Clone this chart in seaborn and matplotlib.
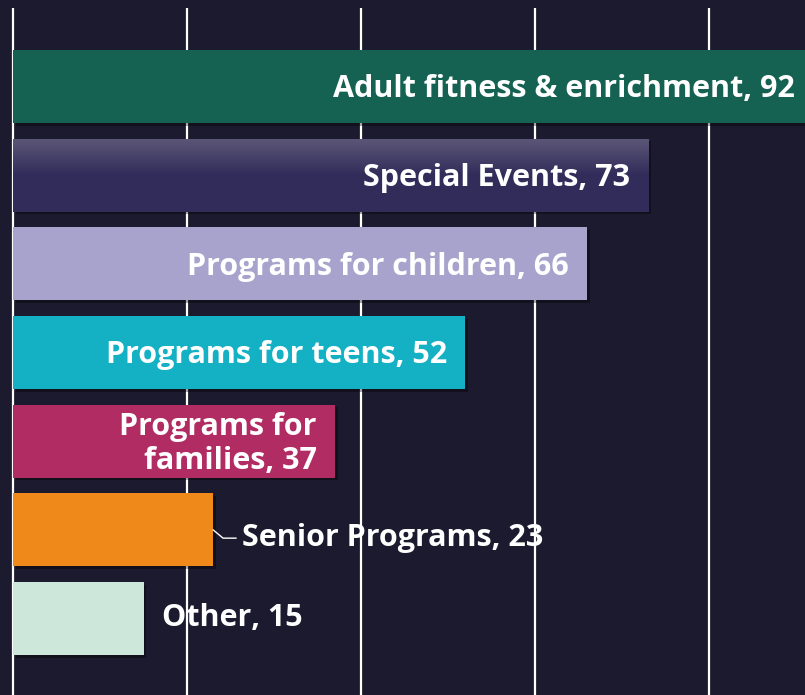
import numpy as np
import pandas as pd
import seaborn as sns
import matplotlib
matplotlib.use('Agg')
import matplotlib.pyplot as plt
import matplotlib.patheffects as pe
from matplotlib.colors import LinearSegmentedColormap

categories = ["Adult fitness & enrichment", "Special Events", "Programs for children",
              "Programs for teens", "Programs for\nfamilies", "Senior Programs", "Other"]
values = [92, 73, 66, 52, 37, 23, 15]
colors = ["#156152", "#322c5a", "#a8a3cc", "#13b1c3", "#b02c62", "#ef8a1a", "#cde8da"]

bg = "#1c1a2e"
df = pd.DataFrame({"category": categories, "value": values})

sns.set_theme(style="white")
plt.rcParams['font.family'] = ['Open Sans', 'DejaVu Sans']

fig = plt.figure(figsize=(8.05, 6.95), dpi=100, facecolor=bg)
ax = fig.add_axes([0, 0, 1, 687 / 695])
ax.set_facecolor(bg)

sns.barplot(data=df, y="category", x="value", hue="category", palette=colors,
            orient="h", width=0.823, legend=False, saturation=1, ax=ax, zorder=3)

for p in ax.patches:
    p.set_edgecolor("none")
    p.set_path_effects([pe.SimplePatchShadow(offset=(2, -2), shadow_rgbFace="black", alpha=0.35),
                        pe.Normal()])

# gradient on the Special Events bar
bar = ax.patches[1]
x0, y0 = bar.get_x(), bar.get_y()
w, h = bar.get_width(), bar.get_height()
cmap = LinearSegmentedColormap.from_list("g", ["#5b5677", "#322c5a"])
grad = np.concatenate([np.linspace(0, 1, 50), np.ones(50)]).reshape(-1, 1)
im = ax.imshow(grad, cmap=cmap, vmin=0, vmax=1, aspect="auto",
               extent=(x0, x0 + w, y0 + h, y0), zorder=3.5, interpolation="bilinear")
im.set_clip_path(bar)

ax.set_xlim(-13 / 8.7, 792 / 8.7)
ax.set_ylim(6.863, -0.885)
ax.set_xticks([0, 20, 40, 60, 80])
ax.grid(axis="x", color="white", lw=1.6, zorder=0)
ax.grid(axis="y", visible=False)
ax.set_xlabel("")
ax.set_ylabel("")
ax.tick_params(left=False, bottom=False, labelleft=False, labelbottom=False)
for s in ax.spines.values():
    s.set_visible(False)

fs = 22
for i, (cat, val) in enumerate(zip(categories, values)):
    label = f"{cat}, {val}"
    if i < 5:
        ax.annotate(label, xy=(val, i), xytext=(-13, -2), textcoords="offset points",
                    ha="right", va="center", color="white", fontsize=fs,
                    fontweight="bold", zorder=5, linespacing=1.2,
                    multialignment="right", annotation_clip=False)
    elif i == 5:
        ax.annotate(label, xy=(val, i), xytext=(21, -6), textcoords="offset points",
                    ha="left", va="center", color="white", fontsize=fs,
                    fontweight="bold", zorder=5,
                    arrowprops=dict(arrowstyle="-", color="white", lw=1,
                                    shrinkA=2, shrinkB=0,
                                    connectionstyle="angle,angleA=0,angleB=-40,rad=0"))
    else:
        ax.annotate(label, xy=(val, i), xytext=(13, 0), textcoords="offset points",
                    ha="left", va="center", color="white", fontsize=fs,
                    fontweight="bold", zorder=5)

fig.savefig("out.png", dpi=100, facecolor=bg)
